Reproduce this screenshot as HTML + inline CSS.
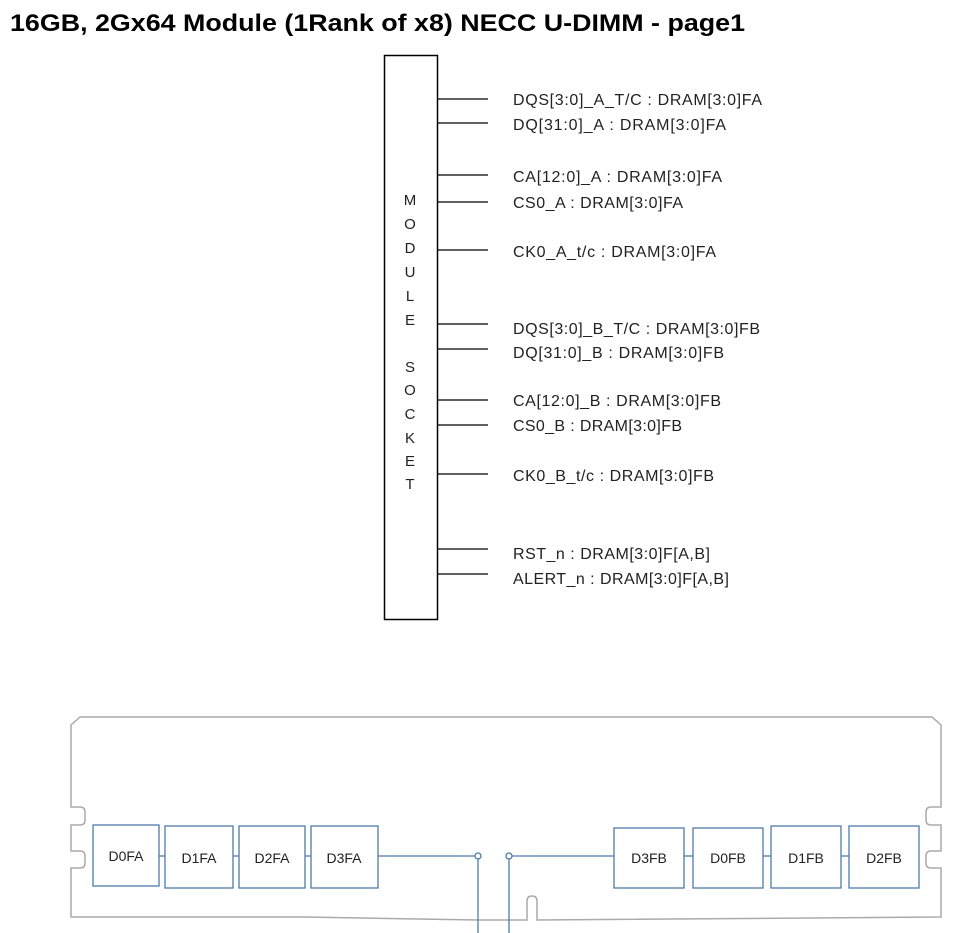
<!DOCTYPE html>
<html><head><meta charset="utf-8"><style>
html,body{margin:0;padding:0;background:#fff;}
svg{display:block;}
text{font-family:"Liberation Sans",sans-serif;}
</style></head><body>
<svg width="957" height="933" viewBox="0 0 957 933" xmlns="http://www.w3.org/2000/svg">
<text x="10" y="31" font-size="24" font-weight="bold" textLength="735" lengthAdjust="spacingAndGlyphs">16GB, 2Gx64 Module (1Rank of x8) NECC U-DIMM - page1</text>
<rect x="384.5" y="55.5" width="53" height="564" fill="none" stroke="#000" stroke-width="1.5"/>
<g font-size="15" fill="#222" text-anchor="middle">
<text x="410" y="205">M</text><text x="410" y="229">O</text><text x="410" y="253">D</text><text x="410" y="277">U</text><text x="410" y="301">L</text><text x="410" y="325">E</text>
<text x="410" y="372">S</text><text x="410" y="395">O</text><text x="410" y="419">C</text><text x="410" y="443">K</text><text x="410" y="466">E</text><text x="410" y="489">T</text>
</g>
<g stroke="#000" stroke-width="1.3">
<line x1="438" y1="99" x2="488" y2="99"/><line x1="438" y1="123" x2="488" y2="123"/>
<line x1="438" y1="175" x2="488" y2="175"/><line x1="438" y1="202" x2="488" y2="202"/>
<line x1="438" y1="250" x2="488" y2="250"/>
<line x1="438" y1="324" x2="488" y2="324"/><line x1="438" y1="349" x2="488" y2="349"/>
<line x1="438" y1="400" x2="488" y2="400"/><line x1="438" y1="425" x2="488" y2="425"/>
<line x1="438" y1="474" x2="488" y2="474"/>
<line x1="438" y1="549" x2="488" y2="549"/><line x1="438" y1="574" x2="488" y2="574"/>
</g>
<g font-size="16" fill="#222" lengthAdjust="spacingAndGlyphs">
<text x="513" y="105" textLength="249">DQS[3:0]_A_T/C : DRAM[3:0]FA</text>
<text x="513" y="130" textLength="213">DQ[31:0]_A : DRAM[3:0]FA</text>
<text x="513" y="182" textLength="209">CA[12:0]_A : DRAM[3:0]FA</text>
<text x="513" y="208" textLength="170">CS0_A : DRAM[3:0]FA</text>
<text x="513" y="257" textLength="203">CK0_A_t/c : DRAM[3:0]FA</text>
<text x="513" y="334" textLength="247">DQS[3:0]_B_T/C : DRAM[3:0]FB</text>
<text x="513" y="358" textLength="211">DQ[31:0]_B : DRAM[3:0]FB</text>
<text x="513" y="406" textLength="208">CA[12:0]_B : DRAM[3:0]FB</text>
<text x="513" y="431" textLength="169">CS0_B : DRAM[3:0]FB</text>
<text x="513" y="481" textLength="201">CK0_B_t/c : DRAM[3:0]FB</text>
<text x="513" y="559" textLength="197">RST_n : DRAM[3:0]F[A,B]</text>
<text x="513" y="584" textLength="216">ALERT_n : DRAM[3:0]F[A,B]</text>
</g>
<path d="M80,717 L932,717 L941,725 L941,807 L931,807 Q926,807 926,812 L926,820 Q926,825 931,825 L941,825 L941,851 L931,851 Q926,851 926,856 L926,863 Q926,868 931,868 L941,868 L941,917 L537,920 L537,901 Q537,896 532,896 Q527,896 527,901 L527,920 L478,920 L305,917 L71,917 L71,868 L80,868 Q85,868 85,863 L85,856 Q85,851 80,851 L71,851 L71,825 L80,825 Q85,825 85,820 L85,812 Q85,807 80,807 L71,807 L71,725 Z" fill="none" stroke="#aaa" stroke-width="1.5"/>
<g fill="none" stroke="#4f7bab" stroke-width="1.3">
<rect x="93" y="825" width="66" height="61"/>
<rect x="165" y="826" width="68" height="62"/>
<rect x="239" y="826" width="66" height="62"/>
<rect x="311" y="826" width="67" height="62"/>
<rect x="614" y="828" width="70" height="60"/>
<rect x="693" y="828" width="70" height="60"/>
<rect x="771" y="826" width="70" height="62"/>
<rect x="849" y="826" width="70" height="62"/>
<line x1="159" y1="856" x2="165" y2="856"/><line x1="233" y1="856" x2="239" y2="856"/><line x1="305" y1="856" x2="311" y2="856"/>
<line x1="378" y1="856" x2="475" y2="856"/>
<line x1="478" y1="859" x2="478" y2="933"/>
<circle cx="478" cy="856" r="3"/>
<circle cx="509" cy="856" r="3"/>
<line x1="509" y1="859" x2="509" y2="933"/>
<line x1="512" y1="856" x2="614" y2="856"/>
<line x1="684" y1="856" x2="693" y2="856"/><line x1="763" y1="856" x2="771" y2="856"/><line x1="841" y1="856" x2="849" y2="856"/>
</g>
<g font-size="14" fill="#222" text-anchor="middle">
<text x="126" y="861">D0FA</text><text x="199" y="863">D1FA</text><text x="272" y="863">D2FA</text><text x="344" y="863">D3FA</text>
<text x="649" y="863">D3FB</text><text x="728" y="863">D0FB</text><text x="806" y="863">D1FB</text><text x="884" y="863">D2FB</text>
</g>
</svg>
</body></html>
